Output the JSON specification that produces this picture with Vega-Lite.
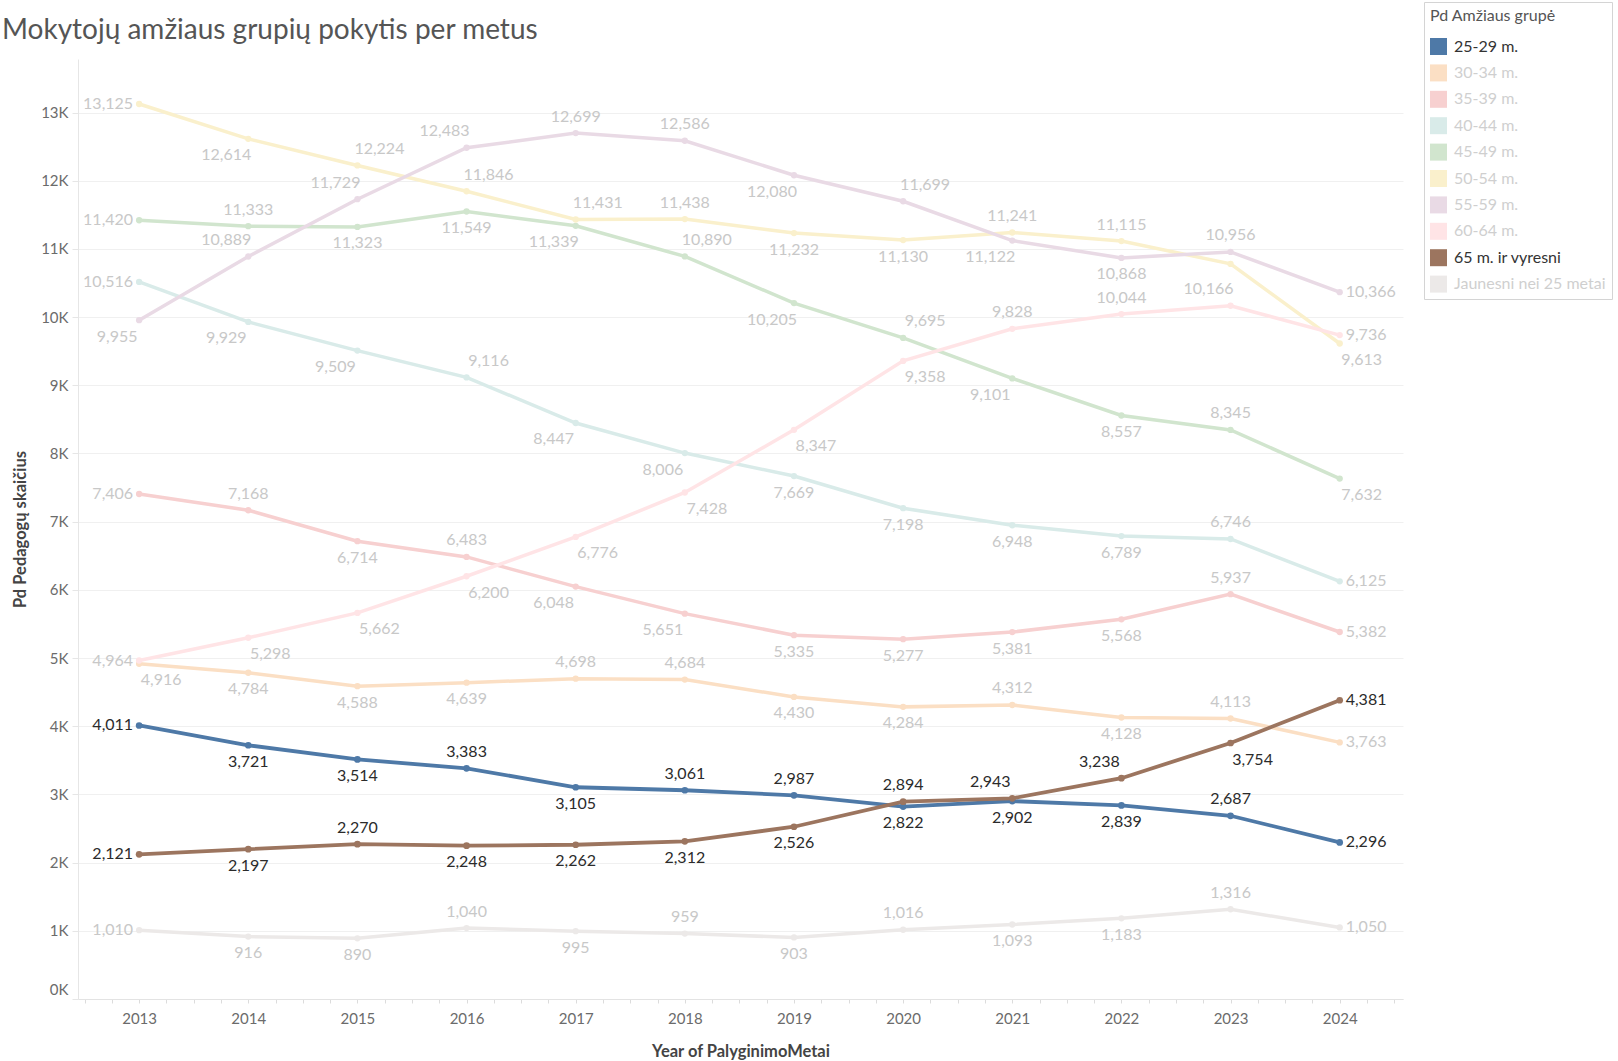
{
  "$schema": "https://vega.github.io/schema/vega-lite/v6.json",
  "width": 1325,
  "height": 940,
  "autosize": {"type": "none"},
  "padding": {"left": 78, "top": 59, "right": 215, "bottom": 62},
  "background": "white",
  "config": {"view": {"stroke": null}, "font": "Lato"},
  "title": {
    "text": "Mokytojų amžiaus grupių pokytis per metus",
    "anchor": "start",
    "frame": "group",
    "dx": -76,
    "offset": -57,
    "baseline": "middle",
    "fontSize": 28,
    "font": "Lato",
    "fontWeight": "normal",
    "color": "#555555"
  },
  "data": {
    "values": [
      {"Amzius": "25-29 m.", "Metai": 2013, "Pedagogai": 4011},
      {"Amzius": "25-29 m.", "Metai": 2014, "Pedagogai": 3721},
      {"Amzius": "25-29 m.", "Metai": 2015, "Pedagogai": 3514},
      {"Amzius": "25-29 m.", "Metai": 2016, "Pedagogai": 3383},
      {"Amzius": "25-29 m.", "Metai": 2017, "Pedagogai": 3105},
      {"Amzius": "25-29 m.", "Metai": 2018, "Pedagogai": 3061},
      {"Amzius": "25-29 m.", "Metai": 2019, "Pedagogai": 2987},
      {"Amzius": "25-29 m.", "Metai": 2020, "Pedagogai": 2822},
      {"Amzius": "25-29 m.", "Metai": 2021, "Pedagogai": 2902},
      {"Amzius": "25-29 m.", "Metai": 2022, "Pedagogai": 2839},
      {"Amzius": "25-29 m.", "Metai": 2023, "Pedagogai": 2687},
      {"Amzius": "25-29 m.", "Metai": 2024, "Pedagogai": 2296},
      {"Amzius": "30-34 m.", "Metai": 2013, "Pedagogai": 4916},
      {"Amzius": "30-34 m.", "Metai": 2014, "Pedagogai": 4784},
      {"Amzius": "30-34 m.", "Metai": 2015, "Pedagogai": 4588},
      {"Amzius": "30-34 m.", "Metai": 2016, "Pedagogai": 4639},
      {"Amzius": "30-34 m.", "Metai": 2017, "Pedagogai": 4698},
      {"Amzius": "30-34 m.", "Metai": 2018, "Pedagogai": 4684},
      {"Amzius": "30-34 m.", "Metai": 2019, "Pedagogai": 4430},
      {"Amzius": "30-34 m.", "Metai": 2020, "Pedagogai": 4284},
      {"Amzius": "30-34 m.", "Metai": 2021, "Pedagogai": 4312},
      {"Amzius": "30-34 m.", "Metai": 2022, "Pedagogai": 4128},
      {"Amzius": "30-34 m.", "Metai": 2023, "Pedagogai": 4113},
      {"Amzius": "30-34 m.", "Metai": 2024, "Pedagogai": 3763},
      {"Amzius": "35-39 m.", "Metai": 2013, "Pedagogai": 7406},
      {"Amzius": "35-39 m.", "Metai": 2014, "Pedagogai": 7168},
      {"Amzius": "35-39 m.", "Metai": 2015, "Pedagogai": 6714},
      {"Amzius": "35-39 m.", "Metai": 2016, "Pedagogai": 6483},
      {"Amzius": "35-39 m.", "Metai": 2017, "Pedagogai": 6048},
      {"Amzius": "35-39 m.", "Metai": 2018, "Pedagogai": 5651},
      {"Amzius": "35-39 m.", "Metai": 2019, "Pedagogai": 5335},
      {"Amzius": "35-39 m.", "Metai": 2020, "Pedagogai": 5277},
      {"Amzius": "35-39 m.", "Metai": 2021, "Pedagogai": 5381},
      {"Amzius": "35-39 m.", "Metai": 2022, "Pedagogai": 5568},
      {"Amzius": "35-39 m.", "Metai": 2023, "Pedagogai": 5937},
      {"Amzius": "35-39 m.", "Metai": 2024, "Pedagogai": 5382},
      {"Amzius": "40-44 m.", "Metai": 2013, "Pedagogai": 10516},
      {"Amzius": "40-44 m.", "Metai": 2014, "Pedagogai": 9929},
      {"Amzius": "40-44 m.", "Metai": 2015, "Pedagogai": 9509},
      {"Amzius": "40-44 m.", "Metai": 2016, "Pedagogai": 9116},
      {"Amzius": "40-44 m.", "Metai": 2017, "Pedagogai": 8447},
      {"Amzius": "40-44 m.", "Metai": 2018, "Pedagogai": 8006},
      {"Amzius": "40-44 m.", "Metai": 2019, "Pedagogai": 7669},
      {"Amzius": "40-44 m.", "Metai": 2020, "Pedagogai": 7198},
      {"Amzius": "40-44 m.", "Metai": 2021, "Pedagogai": 6948},
      {"Amzius": "40-44 m.", "Metai": 2022, "Pedagogai": 6789},
      {"Amzius": "40-44 m.", "Metai": 2023, "Pedagogai": 6746},
      {"Amzius": "40-44 m.", "Metai": 2024, "Pedagogai": 6125},
      {"Amzius": "45-49 m.", "Metai": 2013, "Pedagogai": 11420},
      {"Amzius": "45-49 m.", "Metai": 2014, "Pedagogai": 11333},
      {"Amzius": "45-49 m.", "Metai": 2015, "Pedagogai": 11323},
      {"Amzius": "45-49 m.", "Metai": 2016, "Pedagogai": 11549},
      {"Amzius": "45-49 m.", "Metai": 2017, "Pedagogai": 11339},
      {"Amzius": "45-49 m.", "Metai": 2018, "Pedagogai": 10890},
      {"Amzius": "45-49 m.", "Metai": 2019, "Pedagogai": 10205},
      {"Amzius": "45-49 m.", "Metai": 2020, "Pedagogai": 9695},
      {"Amzius": "45-49 m.", "Metai": 2021, "Pedagogai": 9101},
      {"Amzius": "45-49 m.", "Metai": 2022, "Pedagogai": 8557},
      {"Amzius": "45-49 m.", "Metai": 2023, "Pedagogai": 8345},
      {"Amzius": "45-49 m.", "Metai": 2024, "Pedagogai": 7632},
      {"Amzius": "50-54 m.", "Metai": 2013, "Pedagogai": 13125},
      {"Amzius": "50-54 m.", "Metai": 2014, "Pedagogai": 12614},
      {"Amzius": "50-54 m.", "Metai": 2015, "Pedagogai": 12224},
      {"Amzius": "50-54 m.", "Metai": 2016, "Pedagogai": 11846},
      {"Amzius": "50-54 m.", "Metai": 2017, "Pedagogai": 11431},
      {"Amzius": "50-54 m.", "Metai": 2018, "Pedagogai": 11438},
      {"Amzius": "50-54 m.", "Metai": 2019, "Pedagogai": 11232},
      {"Amzius": "50-54 m.", "Metai": 2020, "Pedagogai": 11130},
      {"Amzius": "50-54 m.", "Metai": 2021, "Pedagogai": 11241},
      {"Amzius": "50-54 m.", "Metai": 2022, "Pedagogai": 11115},
      {"Amzius": "50-54 m.", "Metai": 2023, "Pedagogai": 10780},
      {"Amzius": "50-54 m.", "Metai": 2024, "Pedagogai": 9613},
      {"Amzius": "55-59 m.", "Metai": 2013, "Pedagogai": 9955},
      {"Amzius": "55-59 m.", "Metai": 2014, "Pedagogai": 10889},
      {"Amzius": "55-59 m.", "Metai": 2015, "Pedagogai": 11729},
      {"Amzius": "55-59 m.", "Metai": 2016, "Pedagogai": 12483},
      {"Amzius": "55-59 m.", "Metai": 2017, "Pedagogai": 12699},
      {"Amzius": "55-59 m.", "Metai": 2018, "Pedagogai": 12586},
      {"Amzius": "55-59 m.", "Metai": 2019, "Pedagogai": 12080},
      {"Amzius": "55-59 m.", "Metai": 2020, "Pedagogai": 11699},
      {"Amzius": "55-59 m.", "Metai": 2021, "Pedagogai": 11122},
      {"Amzius": "55-59 m.", "Metai": 2022, "Pedagogai": 10868},
      {"Amzius": "55-59 m.", "Metai": 2023, "Pedagogai": 10956},
      {"Amzius": "55-59 m.", "Metai": 2024, "Pedagogai": 10366},
      {"Amzius": "60-64 m.", "Metai": 2013, "Pedagogai": 4964},
      {"Amzius": "60-64 m.", "Metai": 2014, "Pedagogai": 5298},
      {"Amzius": "60-64 m.", "Metai": 2015, "Pedagogai": 5662},
      {"Amzius": "60-64 m.", "Metai": 2016, "Pedagogai": 6200},
      {"Amzius": "60-64 m.", "Metai": 2017, "Pedagogai": 6776},
      {"Amzius": "60-64 m.", "Metai": 2018, "Pedagogai": 7428},
      {"Amzius": "60-64 m.", "Metai": 2019, "Pedagogai": 8347},
      {"Amzius": "60-64 m.", "Metai": 2020, "Pedagogai": 9358},
      {"Amzius": "60-64 m.", "Metai": 2021, "Pedagogai": 9828},
      {"Amzius": "60-64 m.", "Metai": 2022, "Pedagogai": 10044},
      {"Amzius": "60-64 m.", "Metai": 2023, "Pedagogai": 10166},
      {"Amzius": "60-64 m.", "Metai": 2024, "Pedagogai": 9736},
      {"Amzius": "65 m. ir vyresni", "Metai": 2013, "Pedagogai": 2121},
      {"Amzius": "65 m. ir vyresni", "Metai": 2014, "Pedagogai": 2197},
      {"Amzius": "65 m. ir vyresni", "Metai": 2015, "Pedagogai": 2270},
      {"Amzius": "65 m. ir vyresni", "Metai": 2016, "Pedagogai": 2248},
      {"Amzius": "65 m. ir vyresni", "Metai": 2017, "Pedagogai": 2262},
      {"Amzius": "65 m. ir vyresni", "Metai": 2018, "Pedagogai": 2312},
      {"Amzius": "65 m. ir vyresni", "Metai": 2019, "Pedagogai": 2526},
      {"Amzius": "65 m. ir vyresni", "Metai": 2020, "Pedagogai": 2894},
      {"Amzius": "65 m. ir vyresni", "Metai": 2021, "Pedagogai": 2943},
      {"Amzius": "65 m. ir vyresni", "Metai": 2022, "Pedagogai": 3238},
      {"Amzius": "65 m. ir vyresni", "Metai": 2023, "Pedagogai": 3754},
      {"Amzius": "65 m. ir vyresni", "Metai": 2024, "Pedagogai": 4381},
      {"Amzius": "Jaunesni nei 25 metai", "Metai": 2013, "Pedagogai": 1010},
      {"Amzius": "Jaunesni nei 25 metai", "Metai": 2014, "Pedagogai": 916},
      {"Amzius": "Jaunesni nei 25 metai", "Metai": 2015, "Pedagogai": 890},
      {"Amzius": "Jaunesni nei 25 metai", "Metai": 2016, "Pedagogai": 1040},
      {"Amzius": "Jaunesni nei 25 metai", "Metai": 2017, "Pedagogai": 995},
      {"Amzius": "Jaunesni nei 25 metai", "Metai": 2018, "Pedagogai": 959},
      {"Amzius": "Jaunesni nei 25 metai", "Metai": 2019, "Pedagogai": 903},
      {"Amzius": "Jaunesni nei 25 metai", "Metai": 2020, "Pedagogai": 1016},
      {"Amzius": "Jaunesni nei 25 metai", "Metai": 2021, "Pedagogai": 1093},
      {"Amzius": "Jaunesni nei 25 metai", "Metai": 2022, "Pedagogai": 1183},
      {"Amzius": "Jaunesni nei 25 metai", "Metai": 2023, "Pedagogai": 1316},
      {"Amzius": "Jaunesni nei 25 metai", "Metai": 2024, "Pedagogai": 1050}
    ]
  },
  "transform": [
    {"calculate": "datum.Amzius === '25-29 m.' || datum.Amzius === '65 m. ir vyresni'", "as": "hl"},
    {"calculate": "(datum.Amzius === '25-29 m.' ? ['L','B','B','A','B','A','A','B','B','B','A','R'] : datum.Amzius === '30-34 m.' ? ['BR','B','B','B','A','A','B','B','A','B','A','R'] : datum.Amzius === '35-39 m.' ? ['L','A','B','A','BL','BL','B','B','B','B','A','R'] : datum.Amzius === '40-44 m.' ? ['L','BL','BL','AR','BL','BL','B','B','B','B','A','R'] : datum.Amzius === '45-49 m.' ? ['L','A','B','B','BL','AR','BL','AR','BL','B','A','BR'] : datum.Amzius === '50-54 m.' ? ['L','BL','AR','AR','AR','A','B','B','A','A','N','BR'] : datum.Amzius === '55-59 m.' ? ['BL','AL','AL','AL','A','A','BL','AR','BL','B','A','R'] : datum.Amzius === '60-64 m.' ? ['L','BR','BR','BR','BR','BR','BR','BR','A','A','AL','R'] : datum.Amzius === '65 m. ir vyresni' ? ['L','B','A','B','B','B','B','A','AL','AL','BR','R'] : ['L','B','B','A','B','A','B','A','B','B','A','R'])[datum.Metai - 2013]", "as": "pos"}
  ],
  "encoding": {
    "x": {
      "field": "Metai",
      "type": "quantitative",
      "scale": {"domain": [2012.44, 2024.58], "nice": false, "zero": false},
      "axis": {
        "title": "Year of PalyginimoMetai",
        "values": [2012.5, 2012.75, 2013, 2013.25, 2013.5, 2013.75, 2014, 2014.25, 2014.5, 2014.75, 2015, 2015.25, 2015.5, 2015.75, 2016, 2016.25, 2016.5, 2016.75, 2017, 2017.25, 2017.5, 2017.75, 2018, 2018.25, 2018.5, 2018.75, 2019, 2019.25, 2019.5, 2019.75, 2020, 2020.25, 2020.5, 2020.75, 2021, 2021.25, 2021.5, 2021.75, 2022, 2022.25, 2022.5, 2022.75, 2023, 2023.25, 2023.5, 2023.75, 2024, 2024.25, 2024.5],
        "labelExpr": "datum.value % 1 === 0 ? format(datum.value, 'd') : ''",
        "labelOverlap": false,
        "labelFlush": false,
        "labelBound": false,
        "grid": false,
        "ticks": true,
        "tickSize": 4,
        "tickColor": "#dcdcdc",
        "domainColor": "#e3e3e3",
        "labelFontSize": 15,
        "labelColor": "#6b6b6b",
        "labelPadding": 8,
        "titleFontSize": 16.5,
        "titleFontWeight": "bold",
        "titleColor": "#444444",
        "titleY": 52,
        "titleBaseline": "middle"
      }
    },
    "y": {
      "field": "Pedagogai",
      "type": "quantitative",
      "scale": {"domain": [0, 13785], "nice": false, "zero": false},
      "axis": {
        "title": "Pd Pedagogų skaičius",
        "values": [0, 1000, 2000, 3000, 4000, 5000, 6000, 7000, 8000, 9000, 10000, 11000, 12000, 13000],
        "labelExpr": "(datum.value / 1000) + 'K'",
        "labelFlush": true,
        "labelFlushOffset": -2,
        "grid": true,
        "gridColor": "#f0f0f0",
        "domainColor": "#e6e6e6",
        "tickColor": "#e6e6e6",
        "tickSize": 6,
        "labelPadding": 4,
        "labelFontSize": 15,
        "labelColor": "#6b6b6b",
        "titleFontSize": 16.5,
        "titleFontWeight": "bold",
        "titleColor": "#444444",
        "titleX": -58,
        "titleY": 470,
        "titleAngle": -90,
        "titleAlign": "center",
        "titleBaseline": "middle"
      }
    }
  },
  "layer": [
    {
      "transform": [{"filter": "!datum.hl"}],
      "mark": {"type": "line", "strokeWidth": 3.5},
      "encoding": {
        "color": {"field": "Amzius", "type": "nominal", "scale": {"domain": ["25-29 m.", "30-34 m.", "35-39 m.", "40-44 m.", "45-49 m.", "50-54 m.", "55-59 m.", "60-64 m.", "65 m. ir vyresni", "Jaunesni nei 25 metai"], "range": ["#4e79a7", "#fbdfc4", "#f7d0d0", "#d9ebe9", "#d1e5ce", "#faf0cc", "#e9dae5", "#ffe4e6", "#9c755f", "#ece9e8"]},
          "legend": {
            "title": "Pd Amžiaus grupė",
            "orient": "none",
            "legendX": 1346,
            "legendY": -57,
            "direction": "vertical",
            "padding": 6,
            "fillColor": "white",
            "strokeColor": "#d4d4d4",
            "titleFontSize": 16,
            "titleFontWeight": "normal",
            "titleColor": "#555555",
            "titlePadding": 14,
            "symbolType": "square",
            "symbolSize": 289,
            "symbolStrokeWidth": 0,
            "labelFontSize": 16,
            "labelOffset": 7,
            "rowPadding": 9.4,
            "labelLimit": 200,
            "encode": {
              "symbols": {"update": {"fill": {"signal": "scale('color', datum.value)"}, "fillOpacity": {"value": 1}, "strokeWidth": {"value": 0}}},
              "labels": {"update": {"fill": {"signal": "(datum.value === '25-29 m.' || datum.value === '65 m. ir vyresni') ? '#333333' : '#cfcfcf'"}}}
            }
          }
        },
        "detail": {"field": "Amzius"}
      }
    },
    {
      "transform": [{"filter": "!datum.hl"}],
      "mark": {"type": "point", "filled": true, "size": 40, "opacity": 1},
      "encoding": {"color": {"field": "Amzius", "type": "nominal"}}
    },
    {
      "transform": [{"filter": "datum.hl"}],
      "mark": {"type": "line", "strokeWidth": 3.8},
      "encoding": {"color": {"field": "Amzius", "type": "nominal"}}
    },
    {
      "transform": [{"filter": "datum.hl"}],
      "mark": {"type": "point", "filled": true, "size": 45, "opacity": 1},
      "encoding": {"color": {"field": "Amzius", "type": "nominal"}}
    },
    {
      "transform": [{"filter": "datum.pos === 'L'"}],
      "mark": {"type": "text", "align": "right", "baseline": "middle", "dx": -6, "fontSize": 16, "font": "Lato"},
      "encoding": {"text": {"field": "Pedagogai", "type": "quantitative", "format": ","}, "color": {"condition": {"test": "datum.hl", "value": "#2b2b2b"}, "value": "#c8c8c8"}}
    },
    {
      "transform": [{"filter": "datum.pos === 'R'"}],
      "mark": {"type": "text", "align": "left", "baseline": "middle", "dx": 6, "fontSize": 16, "font": "Lato"},
      "encoding": {"text": {"field": "Pedagogai", "type": "quantitative", "format": ","}, "color": {"condition": {"test": "datum.hl", "value": "#2b2b2b"}, "value": "#c8c8c8"}}
    },
    {
      "transform": [{"filter": "datum.pos === 'A'"}],
      "mark": {"type": "text", "align": "center", "baseline": "middle", "dy": -16.5, "fontSize": 16, "font": "Lato"},
      "encoding": {"text": {"field": "Pedagogai", "type": "quantitative", "format": ","}, "color": {"condition": {"test": "datum.hl", "value": "#2b2b2b"}, "value": "#c8c8c8"}}
    },
    {
      "transform": [{"filter": "datum.pos === 'B'"}],
      "mark": {"type": "text", "align": "center", "baseline": "middle", "dy": 16.5, "fontSize": 16, "font": "Lato"},
      "encoding": {"text": {"field": "Pedagogai", "type": "quantitative", "format": ","}, "color": {"condition": {"test": "datum.hl", "value": "#2b2b2b"}, "value": "#c8c8c8"}}
    },
    {
      "transform": [{"filter": "datum.pos === 'AL'"}],
      "mark": {"type": "text", "align": "center", "baseline": "middle", "dx": -22, "dy": -16.5, "fontSize": 16, "font": "Lato"},
      "encoding": {"text": {"field": "Pedagogai", "type": "quantitative", "format": ","}, "color": {"condition": {"test": "datum.hl", "value": "#2b2b2b"}, "value": "#c8c8c8"}}
    },
    {
      "transform": [{"filter": "datum.pos === 'AR'"}],
      "mark": {"type": "text", "align": "center", "baseline": "middle", "dx": 22, "dy": -16.5, "fontSize": 16, "font": "Lato"},
      "encoding": {"text": {"field": "Pedagogai", "type": "quantitative", "format": ","}, "color": {"condition": {"test": "datum.hl", "value": "#2b2b2b"}, "value": "#c8c8c8"}}
    },
    {
      "transform": [{"filter": "datum.pos === 'BL'"}],
      "mark": {"type": "text", "align": "center", "baseline": "middle", "dx": -22, "dy": 16.5, "fontSize": 16, "font": "Lato"},
      "encoding": {"text": {"field": "Pedagogai", "type": "quantitative", "format": ","}, "color": {"condition": {"test": "datum.hl", "value": "#2b2b2b"}, "value": "#c8c8c8"}}
    },
    {
      "transform": [{"filter": "datum.pos === 'BR'"}],
      "mark": {"type": "text", "align": "center", "baseline": "middle", "dx": 22, "dy": 16.5, "fontSize": 16, "font": "Lato"},
      "encoding": {"text": {"field": "Pedagogai", "type": "quantitative", "format": ","}, "color": {"condition": {"test": "datum.hl", "value": "#2b2b2b"}, "value": "#c8c8c8"}}
    }
  ]
}
